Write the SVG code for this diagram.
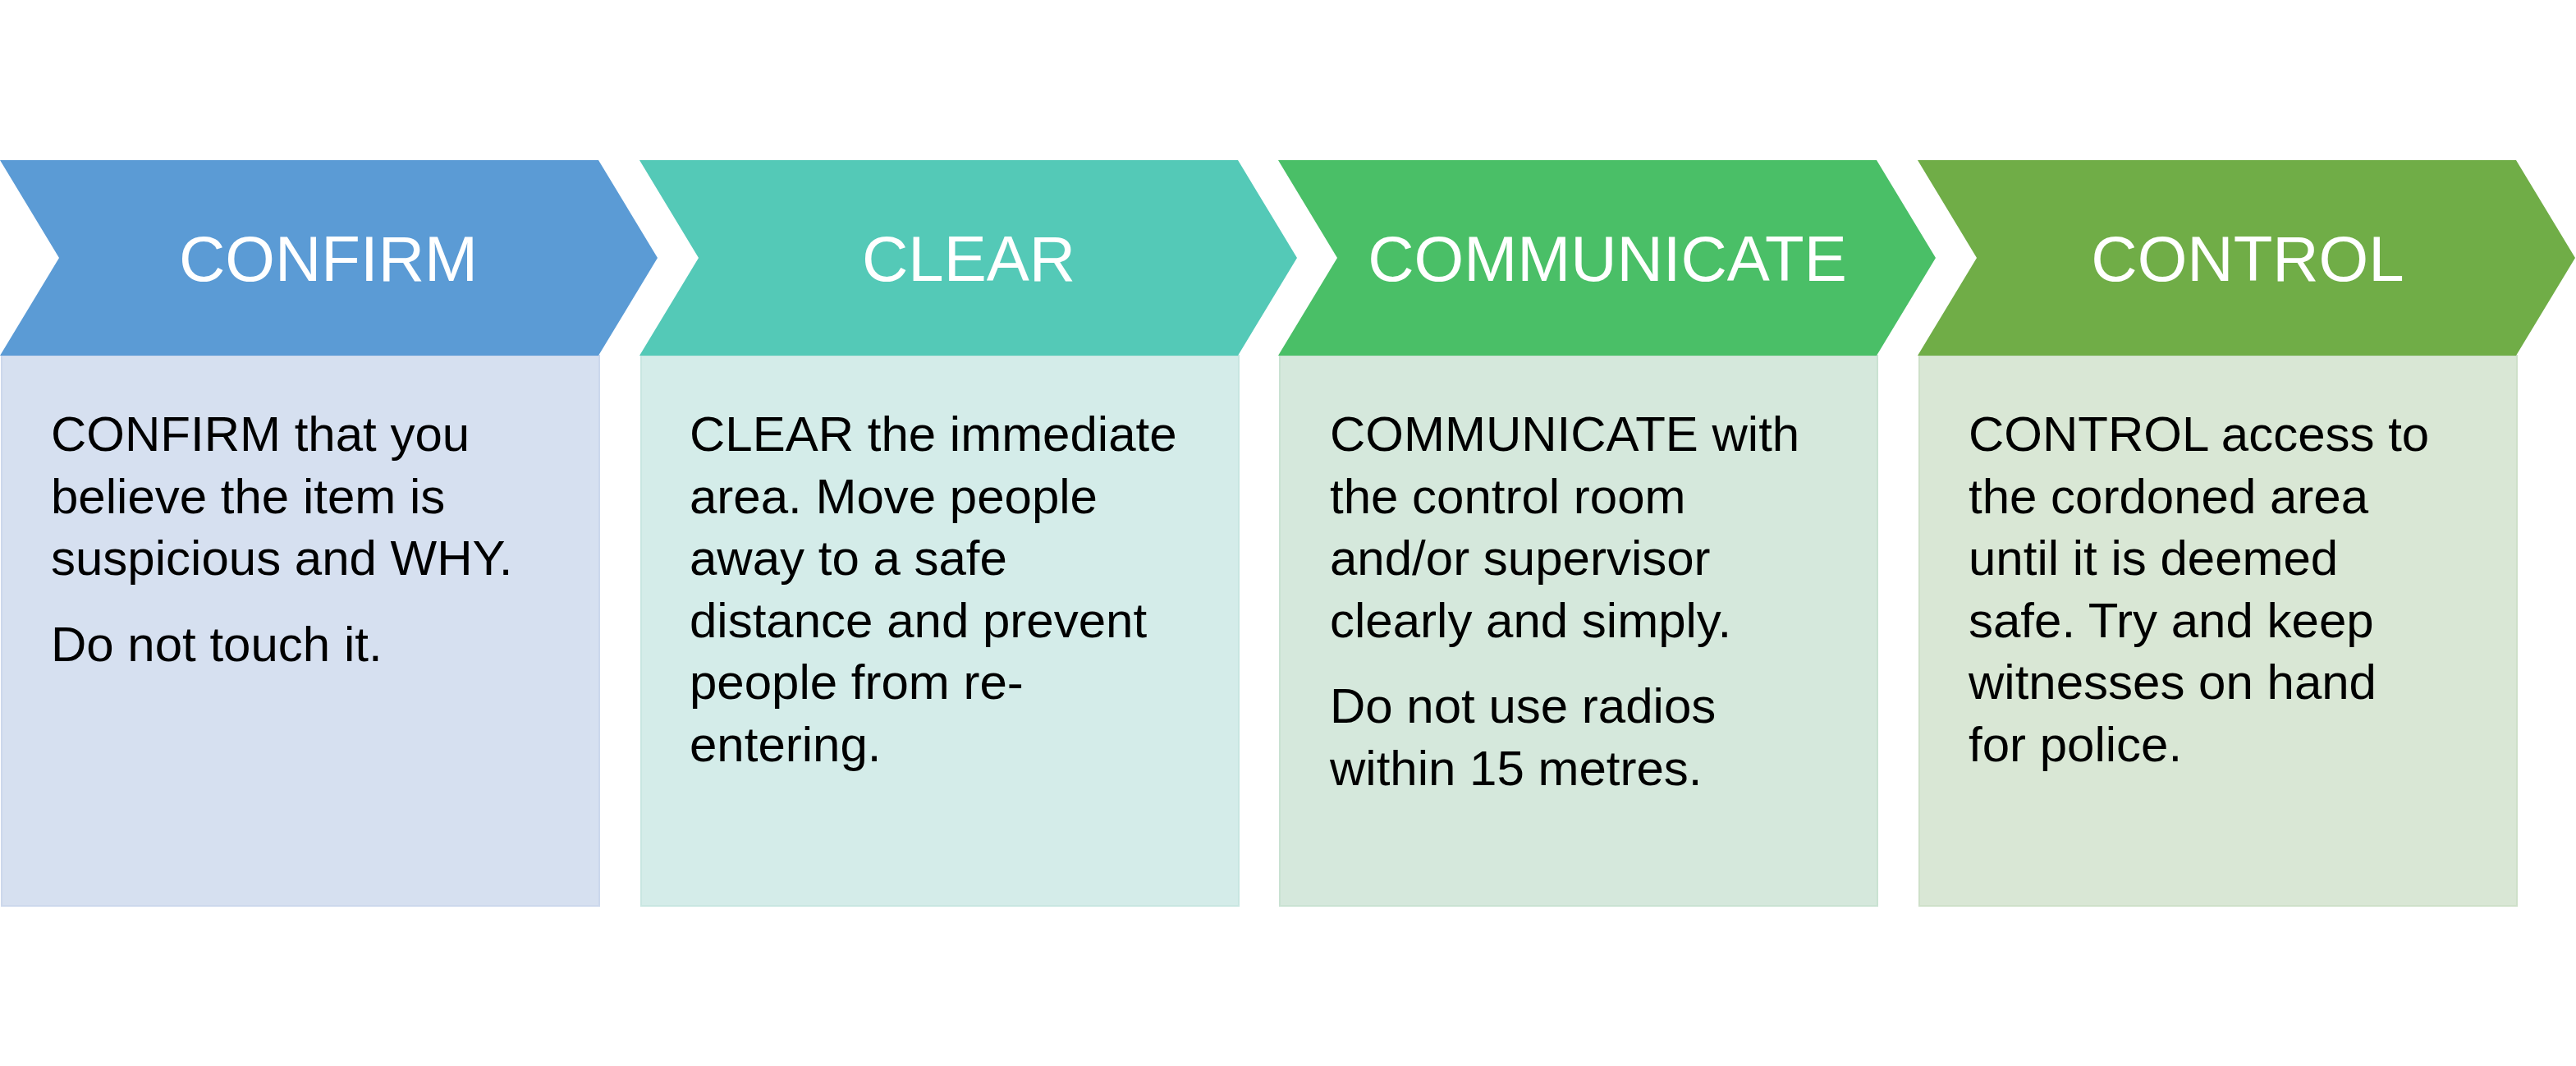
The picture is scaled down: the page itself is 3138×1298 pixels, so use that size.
<svg xmlns="http://www.w3.org/2000/svg" width="3138" height="1298" viewBox="0 0 3138 1298">
<style>
.hd{font-family:"Liberation Sans",Arial,sans-serif;font-size:78px;fill:#ffffff;text-anchor:middle}
.bd{font-family:"Liberation Sans",Arial,sans-serif;font-size:60px;fill:#000000}
</style>
<rect x="0" y="0" width="3138" height="1298" fill="#ffffff"/>
<g id="step-confirm">
<rect x="2" y="433" width="728" height="670" fill="#D6E0F0" stroke="#CCD8EC" stroke-width="2"/>
<polygon points="0,195 729,195 801,314 729,433 0,433 72,314" fill="#5B9BD5"/>
<text class="hd" x="400" y="342">CONFIRM</text>
<text class="bd"><tspan x="62" y="549">CONFIRM that you</tspan><tspan x="62" y="625">believe the item is</tspan><tspan x="62" y="700">suspicious and WHY.</tspan><tspan x="62" y="805">Do not touch it.</tspan></text>
</g>
<g id="step-clear">
<rect x="781" y="433" width="728" height="670" fill="#D4ECE9" stroke="#C8E6E1" stroke-width="2"/>
<polygon points="779,195 1508,195 1580,314 1508,433 779,433 851,314" fill="#54C9B7"/>
<text class="hd" x="1180" y="342">CLEAR</text>
<text class="bd"><tspan x="840" y="549">CLEAR the immediate</tspan><tspan x="840" y="625">area. Move people</tspan><tspan x="840" y="700">away to a safe</tspan><tspan x="840" y="776">distance and prevent</tspan><tspan x="840" y="851">people from re-</tspan><tspan x="840" y="927">entering.</tspan></text>
</g>
<g id="step-communicate">
<rect x="1559" y="433" width="728" height="670" fill="#D5E8DC" stroke="#C9E2D2" stroke-width="2"/>
<polygon points="1557,195 2286,195 2358,314 2286,433 1557,433 1629,314" fill="#4ABF67"/>
<text class="hd" x="1958" y="342">COMMUNICATE</text>
<text class="bd"><tspan x="1620" y="549">COMMUNICATE with</tspan><tspan x="1620" y="625">the control room</tspan><tspan x="1620" y="700">and/or supervisor</tspan><tspan x="1620" y="776">clearly and simply.</tspan><tspan x="1620" y="880">Do not use radios</tspan><tspan x="1620" y="956">within 15 metres.</tspan></text>
</g>
<g id="step-control">
<rect x="2338" y="433" width="728" height="670" fill="#D9E7D5" stroke="#CEE0C9" stroke-width="2"/>
<polygon points="2336,195 3065,195 3137,314 3065,433 2336,433 2408,314" fill="#70AD47"/>
<text class="hd" x="2738" y="342">CONTROL</text>
<text class="bd"><tspan x="2398" y="549">CONTROL access to</tspan><tspan x="2398" y="625">the cordoned area</tspan><tspan x="2398" y="700">until it is deemed</tspan><tspan x="2398" y="776">safe. Try and keep</tspan><tspan x="2398" y="851">witnesses on hand</tspan><tspan x="2398" y="927">for police.</tspan></text>
</g>
<g id="connectors"></g>
</svg>
